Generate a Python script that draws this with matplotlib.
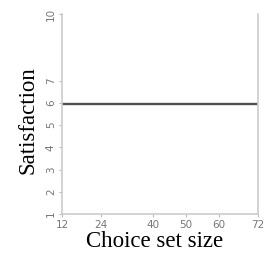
import matplotlib.pyplot as plt

set_sizes = [12, 24, 40, 50, 60, 72]
satisfaction = [5.95, 5.95, 5.95, 5.95, 5.95, 5.95]
xticks = [12, 24, 40, 50, 60, 72]
yticks = [1, 2, 3, 4, 5, 6, 7, 10]

fig = plt.figure(figsize=(2.7, 2.58), dpi=100)
ax = fig.add_axes([0.23, 0.171, 0.725, 0.774])
ax.plot(set_sizes, satisfaction, color="#505050", linewidth=1.7)
ax.set_xlim(12, 72)
ax.set_ylim(1, 10)
ax.set_xticks(xticks)
ax.set_yticks(yticks)
ax.tick_params(colors="#bbbbbb", labelcolor="#777777", labelsize=7.5, length=2.5, width=0.8, pad=2)
for lab in ax.get_yticklabels():
    lab.set_rotation(90)
    lab.set_va("center")
for side in ["left", "bottom", "right"]:
    ax.spines[side].set_color("#cccccc")
    ax.spines[side].set_linewidth(1.2)
ax.spines["top"].set_visible(False)
ax.set_xlabel("Choice set size", fontsize=16.5, family="Liberation Serif")
ax.set_ylabel("Satisfaction", fontsize=16.5, family="Liberation Serif")
ax.xaxis.set_label_coords(0.47, -0.085)
ax.yaxis.set_label_coords(-0.12, 0.47)
plt.savefig("out.png", dpi=100)
